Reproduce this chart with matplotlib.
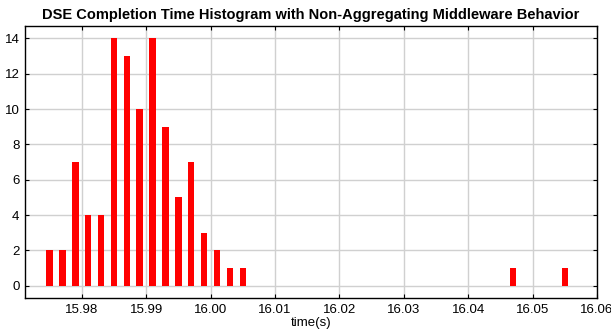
import matplotlib.pyplot as plt

# DSE completion time histogram (bin centres in seconds, counts per bin)
times = [15.975, 15.977, 15.979, 15.981, 15.983, 15.985, 15.987, 15.989,
         15.991, 15.993, 15.995, 15.997, 15.999, 16.001, 16.003, 16.005,
         16.047, 16.055]
counts = [2, 2, 7, 4, 4, 14, 13, 10, 14, 9, 5, 7, 3, 2, 1, 1, 1, 1]

xticks = [15.98, 15.99, 16.00, 16.01, 16.02, 16.03, 16.04, 16.05, 16.06]
xticklabels = ['15.98', '15.99', '16.00', '16.01', '16.02', '16.03', '16.04', '16.05', '16.06']
yticks = [0, 2, 4, 6, 8, 10, 12, 14]

plt.rcParams['font.family'] = ['Liberation Sans', 'DejaVu Sans']

fig = plt.figure(figsize=(6.11, 3.29), dpi=100)
ax = fig.add_axes([0.041, 0.094, 0.936, 0.827])

ax.bar(times, counts, width=0.001, color='#ff0000', zorder=3)

ax.set_xlim(15.9712, 16.06)
ax.set_ylim(-0.7, 14.7)
ax.set_xticks(xticks)
ax.set_xticklabels(xticklabels)
ax.set_yticks(yticks)
ax.grid(True, color='#d0d0d0', linewidth=1.0, zorder=0)
ax.set_axisbelow(True)
ax.tick_params(direction='in', top=True, right=True, labelsize=9.5, length=3, pad=4)
for s in ax.spines.values():
    s.set_linewidth(1.0)

ax.set_xlabel('time(s)', fontsize=9.5, labelpad=1)
ax.set_title('DSE Completion Time Histogram with Non-Aggregating Middleware Behavior',
             fontsize=10.5, fontweight='bold', pad=5)

fig.savefig('out.png', dpi=100)
